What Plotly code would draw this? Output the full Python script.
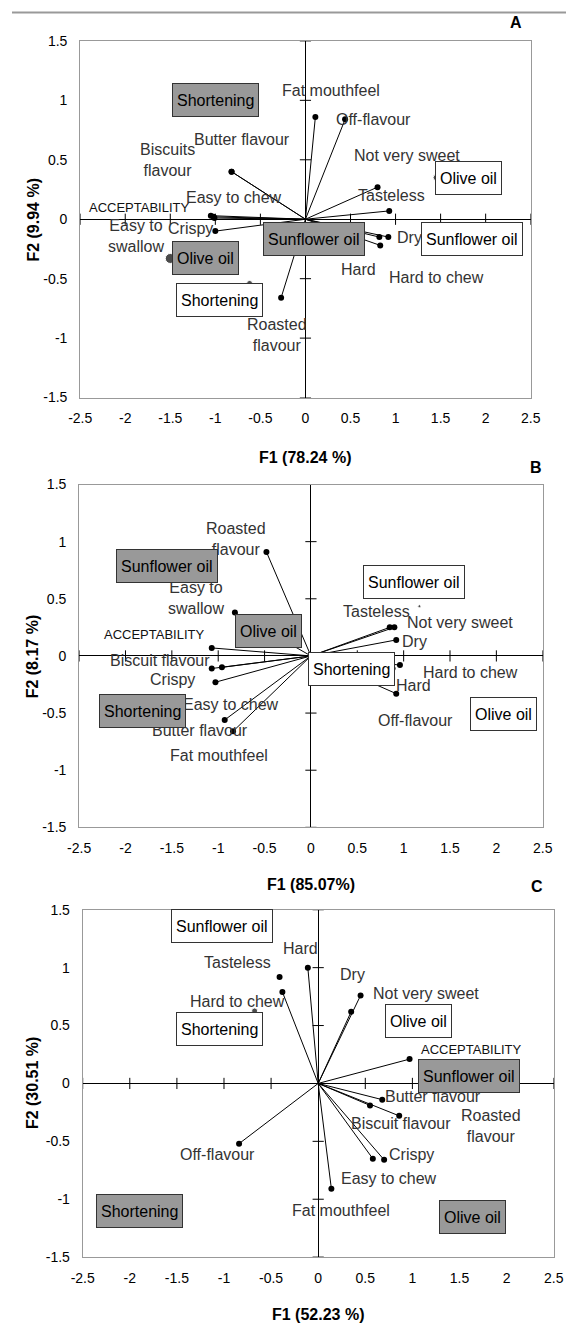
import plotly.graph_objects as go

# ---------------- data ----------------
variables = ["ACCEPTABILITY", "Biscuits flavour", "Butter flavour", "Crispy", "Dry",
             "Easy to chew", "Easy to swallow", "Fat mouthfeel", "Hard", "Hard to chew",
             "Not very sweet", "Off-flavour", "Roasted flavour", "Tasteless"]

labels_A = ["ACCEPTABILITY", "Biscuits<br>flavour", "Butter flavour", "Crispy", "Dry",
            "Easy to chew", "Easy to<br>swallow", "Fat mouthfeel", "Hard", "Hard to chew",
            "Not very sweet", "Off-flavour", "Roasted<br>flavour", "Tasteless"]
labels_B = ["ACCEPTABILITY", "Biscuit flavour", "Butter flavour", "Crispy", "Dry",
            "Easy to chew", "Easy to<br>swallow", "Fat mouthfeel", "Hard", "Hard to chew",
            "Not very sweet", "Off-flavour", "Roasted<br>flavour", "Tasteless"]
labels_C = ["ACCEPTABILITY", "Biscuit flavour", "Butter flavour", "Crispy", "Dry",
            "Easy to chew", None, "Fat mouthfeel", "Hard", "Hard to chew",
            "Not very sweet", "Off-flavour", "Roasted<br>flavour", "Tasteless"]

# variable loadings (F1, F2)
A_f1 = [-1.01, -0.82, -0.82, -1.00, 0.92, -1.05, -1.02, 0.11, 0.82, 0.83, 0.80, 0.44, -0.27, 0.93]
A_f2 = [0.01, 0.40, 0.40, -0.10, -0.15, 0.03, 0.02, 0.86, -0.15, -0.22, 0.27, 0.84, -0.66, 0.07]

B_f1 = [-1.07, -1.07, -0.84, -1.03, 0.92, -0.96, -0.82, -0.93, 0.92, 0.96, 0.90, 0.88, -0.48, 0.85]
B_f2 = [0.07, -0.11, -0.66, -0.23, 0.14, -0.10, 0.38, -0.56, -0.33, -0.08, 0.25, -0.11, 0.91, 0.25]

C_f1 = [0.97, 0.55, 0.68, 0.70, 0.35, 0.58, None, 0.14, -0.11, -0.38, 0.45, -0.84, 0.86, -0.41]
C_f2 = [0.21, -0.19, -0.14, -0.66, 0.62, -0.65, None, -0.91, 1.00, 0.79, 0.76, -0.52, -0.28, 0.92]

# observations (products)
obs_names = ["Shortening", "Olive oil", "Sunflower oil", "Shortening", "Olive oil", "Sunflower oil"]
obs_group = ["gray", "gray", "gray", "white", "white", "white"]

A_obs_f1 = [-1.00, -1.50, 0.10, -0.62, 1.45, 1.85]
A_obs_f2 = [1.00, -0.33, -0.17, -0.54, 0.35, -0.17]
B_obs_f1 = [-1.82, -0.46, -1.55, 0.44, 2.08, 1.17]
B_obs_f2 = [-0.48, 0.22, 0.79, -0.11, -0.51, 0.435]
C_obs_f1 = [-1.90, 1.64, 1.60, -0.675, 1.07, -1.02]
C_obs_f2 = [-1.10, -1.15, 0.06, 0.626, 0.54, 1.36]

x_ticks = [-2.5, -2, -1.5, -1, -0.5, 0, 0.5, 1, 1.5, 2, 2.5]
x_tick_text = ["-2.5", "-2", "-1.5", "-1", "-0.5", "0", "0.5", "1", "1.5", "2", "2.5"]
y_ticks = [-1.5, -1, -0.5, 0, 0.5, 1, 1.5]
y_tick_text = ["-1.5", "-1", "-0.5", "0", "0.5", "1", "1.5"]

panel_letters = ["A", "B", "C"]
x_titles = ["F1 (78.24 %)", "F1 (85.07%)", "F1 (52.23 %)"]
y_titles = ["F2 (9.94 %)", "F2 (8.17 %)", "F2 (30.51 %)"]

# ---------------- styles (pixel offsets for labels / boxes) ----------------
A_lab_off = [(-75.3, 10.3), (-63.6, 12), (10.7, 32.3), (-24.6, 3), (21.3, 0), (22.8, 18.3),
             (-77.9, -18.7), (15.8, 26), (-21.3, -32.7), (55.8, -32), (29.4, 32), (28.3, 0),
             (-3.7, -37.7), (1.8, 15.3)]
B_lab_off = [(-56.9, 13.7), (-51.4, 8.3), (-33.1, 1), (-43, 2.3), (18.4, -2), (9.2, -36.7),
             (-38.9, 14.3), (-6.2, -35.7), (17.3, 7.7), (70.5, -7.3), (66.1, 5), (23.1, -51.7),
             (-30.9, 13.3), (-13.6, 16)]
C_lab_off = [(62.1, 10), (31.2, -17.7), (50.3, 2.7), (27.6, 5), (1.1, 37.3), (16.5, -20),
             (0, 0), (9.2, -21.7), (-7.3, 18.7), (-44.8, -9.7), (65, 2.3), (-21.3, -10.7),
             (91.5, -10.3), (-42.2, 14.3)]
A_box_off = [(0, 0), (35.6, 0), (0, 0), (-30.5, -16.8), (32.8, 0), (0, 0)]
B_box_off = [(0, 0), (0, 0), (0, 0), (0, 0), (0, 0), (-5, 24)]
C_box_off = [(0, 0), (0, 0), (0, 0), (-35, -17.7), (0, 0), (0, 0)]
A_obs_size = [6, 10, 6, 6, 6, 6]
B_obs_size = [6, 6, 6, 6, 6, 3]
C_obs_size = [6, 6, 6, 6, 6, 6]
no_vector = [set(), set(), {"Tasteless"}]

W, H = 576, 1333
# plot areas in pixels: left, right, top, bottom
areas = [(70.9, 539.3, 33.3, 394.3), (69.8, 551.8, 482.3, 829.3), (73.5, 563.2, 912.7, 1264.3)]
x_title_px = [(305, 455), (311, 887), (318.5, 1322)]
y_title_px = [(22, 214), (21, 656), (22, 1088)]
letter_px = [(523.5, 15), (544.8, 465), (545.6, 889)]

FONT = "Liberation Sans, Arial, sans-serif"
fills = {"gray": "#999999", "white": "#ffffff"}

panels = [
    (labels_A, A_f1, A_f2, A_obs_f1, A_obs_f2, A_lab_off, A_box_off, A_obs_size),
    (labels_B, B_f1, B_f2, B_obs_f1, B_obs_f2, B_lab_off, B_box_off, B_obs_size),
    (labels_C, C_f1, C_f2, C_obs_f1, C_obs_f2, C_lab_off, C_box_off, C_obs_size),
]

fig = go.Figure()
layout_updates = {}


def paper_text(px, py, text, angle=0):
    fig.add_annotation(x=px / W, y=1 - py / H, xref="paper", yref="paper", text=text,
                       showarrow=False, xanchor="center", yanchor="middle", textangle=angle,
                       font=dict(family=FONT, size=16, color="black"))


for i, (labs, fx, fy, ox, oy, loff, boff, osz) in enumerate(panels):
    sfx = "" if i == 0 else str(i + 1)
    xa, ya = "x" + sfx, "y" + sfx
    l, r, t, b = areas[i]

    # vectors
    vx, vy = [], []
    for name, x, y in zip(variables, fx, fy):
        if x is None or name in no_vector[i]:
            continue
        vx += [0, x, None]
        vy += [0, y, None]
    fig.add_trace(go.Scatter(x=vx, y=vy, mode="lines", line=dict(color="black", width=1),
                             xaxis=xa, yaxis=ya, hoverinfo="skip", showlegend=False))
    px_ = [x for x in fx if x is not None]
    py_ = [y for y in fy if y is not None]
    fig.add_trace(go.Scatter(x=px_, y=py_, mode="markers", marker=dict(color="black", size=6),
                             xaxis=xa, yaxis=ya, showlegend=False))
    # observation points
    fig.add_trace(go.Scatter(x=ox, y=oy, mode="markers", marker=dict(color="black", size=osz),
                             xaxis=xa, yaxis=ya, showlegend=False))
    # tick crosses on zero lines
    xt = [v for v in x_ticks if v != 0]
    yt = [v for v in y_ticks if v != 0]
    fig.add_trace(go.Scatter(x=xt, y=[0] * len(xt), mode="markers",
                             marker=dict(symbol="line-ns", size=8, line=dict(width=1, color="black")),
                             xaxis=xa, yaxis=ya, showlegend=False, hoverinfo="skip"))
    fig.add_trace(go.Scatter(x=[0] * len(yt), y=yt, mode="markers",
                             marker=dict(symbol="line-ew", size=8, line=dict(width=1, color="black")),
                             xaxis=xa, yaxis=ya, showlegend=False, hoverinfo="skip"))

    # variable labels
    for lab, x, y, (dx, dy) in zip(labs, fx, fy, loff):
        if lab is None or x is None:
            continue
        small = lab == "ACCEPTABILITY"
        fig.add_annotation(x=x, y=y, xref=xa, yref=ya, text=lab, showarrow=False,
                           xanchor="center", yanchor="middle",
                           xshift=dx, yshift=dy, align="center",
                           font=dict(family=FONT, size=13 if small else 16,
                                     color="#111" if small else "#333"))
    # observation boxes
    for name, grp, x, y, (dx, dy) in zip(obs_names, obs_group, ox, oy, boff):
        fig.add_annotation(x=x, y=y, xref=xa, yref=ya, text=name, showarrow=False,
                           xanchor="center", yanchor="middle",
                           xshift=dx, yshift=dy, bgcolor=fills[grp], bordercolor="#333",
                           borderwidth=1, borderpad=4, height=24,
                           font=dict(family=FONT, size=16, color="black"))

    # axis titles and panel letter
    paper_text(*x_title_px[i], "<b>" + x_titles[i] + "</b>")
    paper_text(*y_title_px[i], "<b>" + y_titles[i] + "</b>", angle=-90)
    paper_text(*letter_px[i], "<b>" + panel_letters[i] + "</b>")

    layout_updates["xaxis" + sfx] = dict(
        domain=[l / W, r / W], range=[-2.5, 2.5], anchor=ya,
        tickvals=x_ticks, ticktext=x_tick_text, ticks="outside", ticklen=8,
        tickcolor="rgba(0,0,0,0)",
        showgrid=False, zeroline=True, zerolinecolor="black", zerolinewidth=1,
        showline=True, mirror=True, linecolor="#999999", linewidth=1,
        tickfont=dict(family=FONT, size=14, color="black"), fixedrange=True)
    layout_updates["yaxis" + sfx] = dict(
        domain=[1 - b / H, 1 - t / H], range=[-1.5, 1.5], anchor=xa,
        tickvals=y_ticks, ticktext=y_tick_text, ticks="outside", ticklen=9,
        tickcolor="rgba(0,0,0,0)",
        showgrid=False, zeroline=True, zerolinecolor="black", zerolinewidth=1,
        showline=True, mirror=True, linecolor="#999999", linewidth=1,
        tickfont=dict(family=FONT, size=14, color="black"), fixedrange=True)

fig.update_layout(
    width=W, height=H, margin=dict(l=0, r=0, t=0, b=0),
    paper_bgcolor="white", plot_bgcolor="white", showlegend=False,
    font=dict(family=FONT, color="black"),
    shapes=[dict(type="line", xref="paper", yref="paper", x0=0, x1=1,
                 y0=1 - 4.5 / H, y1=1 - 4.5 / H, line=dict(color="#999999", width=2))],
    **layout_updates,
)

fig.write_html("out.html")
